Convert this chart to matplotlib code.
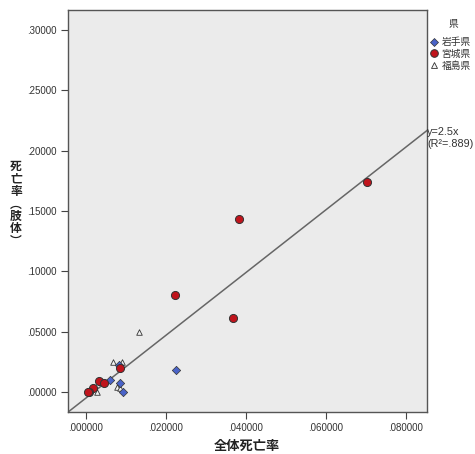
import matplotlib
matplotlib.use("Agg")
import matplotlib.pyplot as plt
from matplotlib.lines import Line2D

plt.rcParams['font.family'] = ['Liberation Sans', 'Noto Sans CJK JP', 'DejaVu Sans']

# Data
iwate_x = [0.0224, 0.0083, 0.0060, 0.0085, 0.0093]
iwate_y = [0.0180, 0.0224, 0.0100, 0.0077, 0.0003]

miyagi_x = [0.0704, 0.03825, 0.02225, 0.03667, 0.0085, 0.00325, 0.0045, 0.0018, 0.0008, 0.0005]
miyagi_y = [0.1744, 0.1432, 0.0802, 0.0614, 0.0201, 0.0094, 0.0077, 0.0030, 0.0003, 0.0000]

fukushima_x = [0.01317, 0.00683, 0.0089, 0.0078, 0.0085, 0.0027]
fukushima_y = [0.0495, 0.0246, 0.0246, 0.0039, 0.0030, 0.0002]

fit_slope = 2.6
fit_intercept = -0.005
fit_label = "y=2.5x\n(R²=.889)"

legend_title = "県"
legend_labels = ["岩手県", "宮城県", "福島県"]

x_ticks = [0.0, 0.02, 0.04, 0.06, 0.08]
x_ticklabels = [".000000", ".020000", ".040000", ".060000", ".080000"]
y_ticks = [0.0, 0.05, 0.10, 0.15, 0.20, 0.25, 0.30]
y_ticklabels = [".00000", ".05000", ".10000", ".15000", ".20000", ".25000", ".30000"]

xlim = (-0.0045, 0.0853)
ylim = (-0.0166, 0.3167)

fig = plt.figure(figsize=(4.75, 4.54), dpi=100)
ax = fig.add_axes([68/475, 1-412/454, (427-68)/475, (412-10)/454])
ax.set_facecolor('#ebebeb')
ax.set_xlim(*xlim)
ax.set_ylim(*ylim)

xs = [xlim[0], xlim[1]]
ax.plot(xs, [fit_slope*x + fit_intercept for x in xs], color='#666666', lw=1.1, zorder=2)

edge = '#333333'
ax.scatter(fukushima_x, fukushima_y, marker='^', s=16, facecolor='#f2f2f2', edgecolor=edge, linewidth=0.6, zorder=3)
ax.scatter(iwate_x, iwate_y, marker='D', s=18, facecolor='#4a63c8', edgecolor=edge, linewidth=0.5, zorder=4)
ax.scatter(miyagi_x, miyagi_y, marker='o', s=34, facecolor='#c0141c', edgecolor=edge, linewidth=0.7, zorder=5)

ax.set_xticks(x_ticks)
ax.set_xticklabels(x_ticklabels)
ax.set_yticks(y_ticks)
ax.set_yticklabels(y_ticklabels)
ax.tick_params(direction='out', length=5, width=0.8, color='#444444', labelsize=7, labelcolor='#333333', pad=3)
for s in ax.spines.values():
    s.set_color('#555555')
    s.set_linewidth(1.0)

fig.text(427/475, 1-127/454, fit_label, fontsize=7.8,
         color='#333333', ha='left', va='top', linespacing=1.25,
         family=['Liberation Sans', 'DejaVu Sans'])

fig.text(247/475, 1-446/454, "全体死亡率", fontsize=9.5, fontweight='bold', ha='center', va='center',
         color='#222222', family=['Noto Sans CJK JP', 'DejaVu Sans'])
fig.text(16/475, 1-204/454, "死\n亡\n率\n︵\n肢\n体\n︶", fontsize=8.5, fontweight='bold', ha='center', va='center',
         color='#222222', linespacing=0.95, family=['Noto Sans CJK JP', 'DejaVu Sans'])

# Legend
fig.text(453/475, 1-24/454, legend_title, fontsize=7, ha='center', va='center', color='#333333',
         family=['Noto Sans CJK JP', 'DejaVu Sans'])
handles = [
    Line2D([], [], marker='D', ls='', markersize=4, markerfacecolor='#4a63c8', markeredgecolor=edge, markeredgewidth=0.5),
    Line2D([], [], marker='o', ls='', markersize=5.5, markerfacecolor='#c0141c', markeredgecolor=edge, markeredgewidth=0.7),
    Line2D([], [], marker='^', ls='', markersize=4, markerfacecolor='#f2f2f2', markeredgecolor=edge, markeredgewidth=0.6),
]
leg = fig.legend(handles, legend_labels, loc='upper left', bbox_to_anchor=(428/475, 1-35/454), frameon=False,
                 prop={'family': ['Noto Sans CJK JP', 'DejaVu Sans'], 'size': 7}, handlelength=0.8,
                 handletextpad=0.4, labelspacing=0.2, borderaxespad=0, borderpad=0.2)
for t in leg.get_texts():
    t.set_color('#333333')

fig.savefig('out.png', dpi=100)
